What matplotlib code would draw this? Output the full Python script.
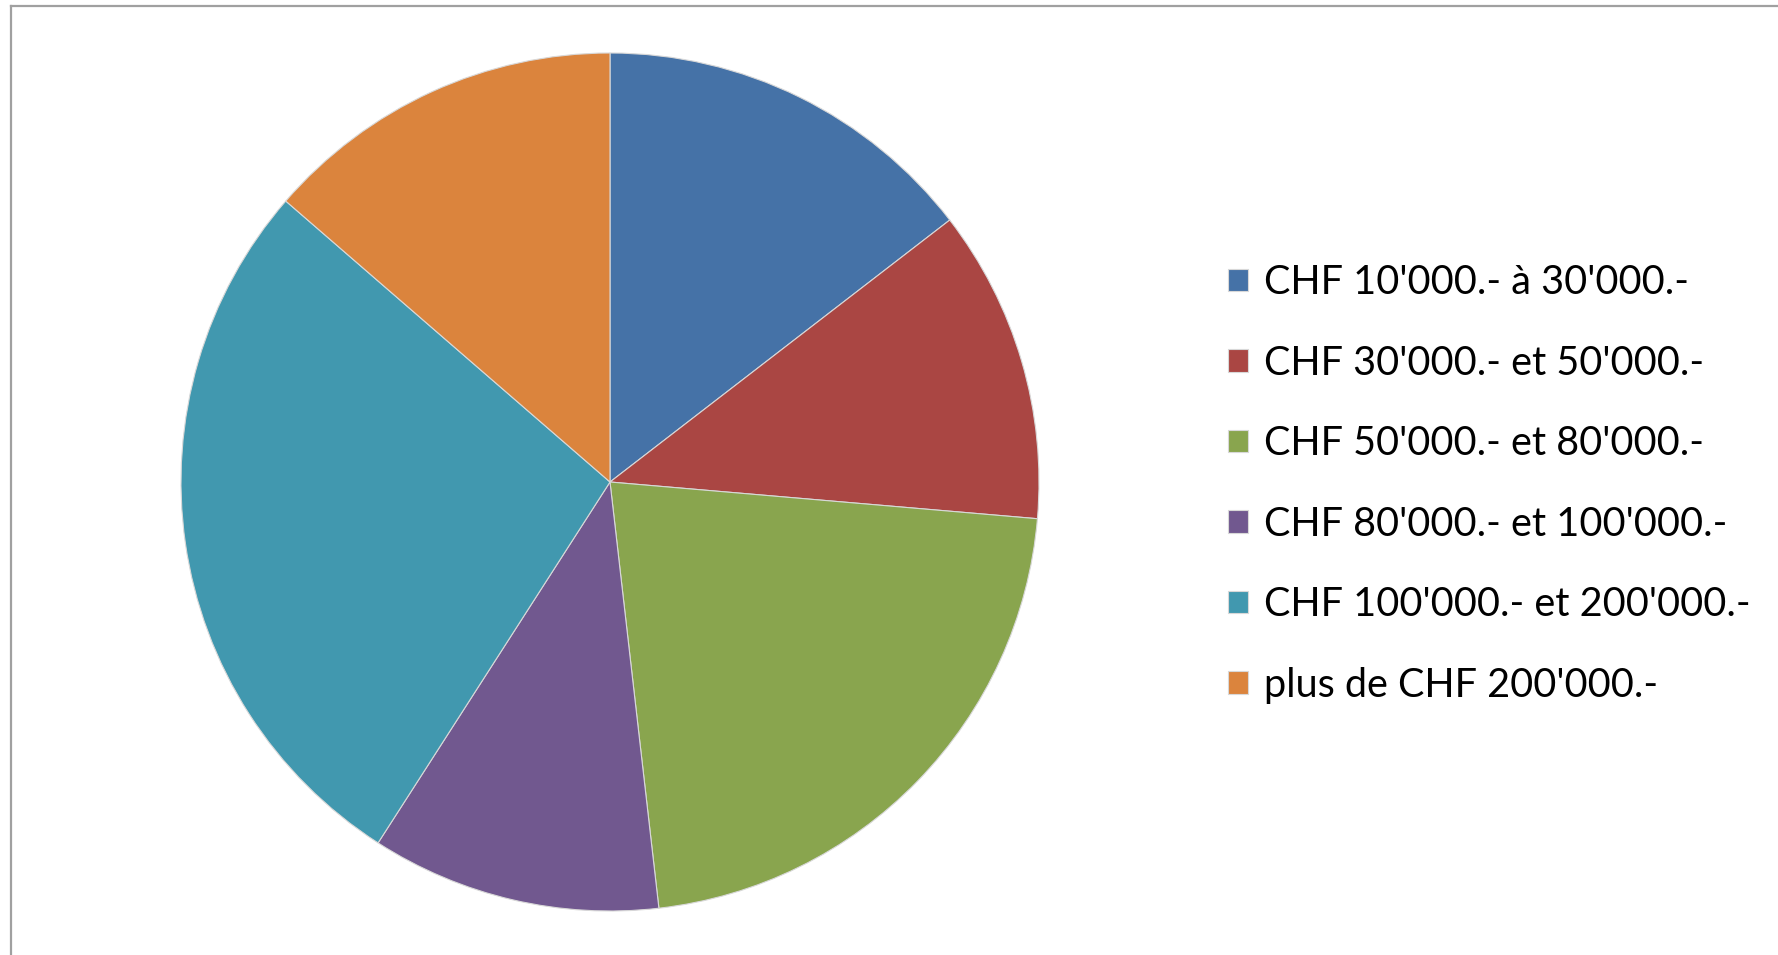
import matplotlib
matplotlib.use('Agg')
from matplotlib import pyplot as plt
from matplotlib.lines import Line2D

# Income brackets and answers
labels = ["CHF 10'000.- à 30'000.-",
          "CHF 30'000.- et 50'000.-",
          "CHF 50'000.- et 80'000.-",
          "CHF 80'000.- et 100'000.-",
          "CHF 100'000.- et 200'000.-",
          "plus de CHF 200'000.-"]
values = [16, 13, 24, 12, 30, 15]
colors = ['#4572A7', '#AA4643', '#89A54E', '#71588F', '#4198AF', '#DB843D']

plt.rcParams['font.family'] = ['Lato', 'DejaVu Sans']

W, H = 1778, 955
fig = plt.figure(figsize=(W / 100, H / 100), dpi=100)
fig.patch.set_facecolor('white')

# pie centre and radius in pixels
cx, cy, r = 610, 955 - 482, 429
ax = fig.add_axes([(cx - r) / W, (cy - r) / H, 2 * r / W, 2 * r / H])
wedges, _ = ax.pie(values, colors=colors, startangle=90, counterclock=False,
                   wedgeprops={'edgecolor': '#d8d8d8', 'linewidth': 0.8})
ax.set_xlim(-1, 1)
ax.set_ylim(-1, 1)
ax.set_aspect('equal')
ax.axis('off')

fig.legend(wedges, labels, loc='upper left',
           bbox_to_anchor=(1228 / W, 1 - 264 / H),
           frameon=False, fontsize=28.5, labelspacing=1.1,
           handlelength=0.5, handleheight=0.5, handletextpad=0.42,
           borderpad=0, borderaxespad=0)

# grey frame, cropped on the right and bottom
x0, y0 = 11 / W, 1 - 6 / H
fig.add_artist(Line2D([x0, x0], [0, y0], color='#a0a0a0', lw=1.6,
                      transform=fig.transFigure))
fig.add_artist(Line2D([x0, 1], [y0, y0], color='#a0a0a0', lw=1.6,
                      transform=fig.transFigure))

plt.savefig('out.png', dpi=100)
